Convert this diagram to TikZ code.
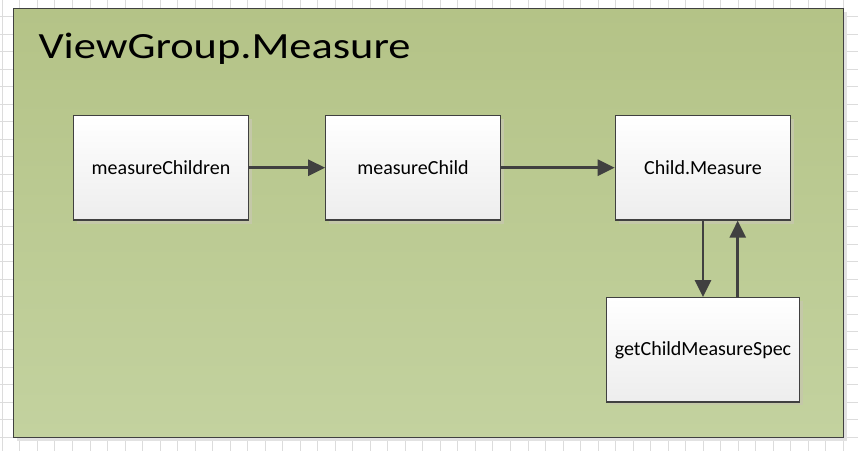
\documentclass[tikz,border=0pt]{standalone}
\usepackage{fontspec}
\setmainfont{Carlito}
\usetikzlibrary{arrows.meta,shadows,calc}
\definecolor{gridc}{HTML}{DCDCDC}
\definecolor{pantop}{HTML}{B4C387}
\definecolor{panbot}{HTML}{C3D29F}
\definecolor{edge}{HTML}{404040}
\definecolor{boxshadow}{HTML}{C4C8A8}
\definecolor{panshadow}{HTML}{E2E2E2}
\tikzset{
  panelbox/.style={draw=edge, line width=1.3pt, top color=pantop, bottom color=panbot,
    minimum width=830pt, minimum height=429pt, inner sep=0pt,
    drop shadow={shadow xshift=4pt, shadow yshift=-4pt, fill=panshadow, opacity=1}},
  procbox/.style={draw=edge, line width=1.2pt, top color=white, bottom color=black!7,
    inner sep=0pt, font=\fontsize{20}{24}\selectfont,
    drop shadow={shadow xshift=3.5pt, shadow yshift=-3.5pt, fill=boxshadow, opacity=1}},
  flow/.style={draw=edge, line width=2.6pt, -{Triangle[length=17pt,width=16pt]}},
}
\begin{document}
\begin{tikzpicture}[x=1pt,y=-1pt]
\useasboundingbox (0,0) rectangle (858,451);
\fill[white] (0,0) rectangle (858,451);
\foreach \i in {0,...,48} {\draw[gridc, line width=0.8pt] (2.3+17.52*\i,0) -- (2.3+17.52*\i,451);}
\foreach \j in {1,...,25} {\draw[gridc, line width=0.8pt] (0,-1+17.52*\j) -- (858,-1+17.52*\j);}
\node[panelbox] (panel) at (428.2,222.8) {};
\node[anchor=base west, inner sep=0pt, font=\fontsize{37}{41}\selectfont] (title) at (38.3,58.3) {\scalebox{1.2}[1]{ViewGroup.Measure}};
\node[procbox, minimum width=175.4pt, minimum height=104.7pt] (mchildren) at (161,167.7) {measureChildren};
\node[procbox, minimum width=174.6pt, minimum height=104.7pt] (mchild) at (413,167.7) {measureChild};
\node[procbox, minimum width=175.4pt, minimum height=104.7pt] (cmeasure) at (703,167.7) {Child.Measure};
\node[procbox, minimum width=192.6pt, minimum height=104.3pt] (spec) at (703,349.8) {getChildMeasureSpec};
\draw[flow] (mchildren.east) -- (mchild.west);
\draw[flow] (mchild.east) -- (cmeasure.west);
\draw[flow] (cmeasure.south) -- (cmeasure.south |- spec.north);
\draw[flow] ([xshift=34.7pt]spec.north) -- ([xshift=34.7pt]spec.north |- cmeasure.south);
\end{tikzpicture}
\end{document}
